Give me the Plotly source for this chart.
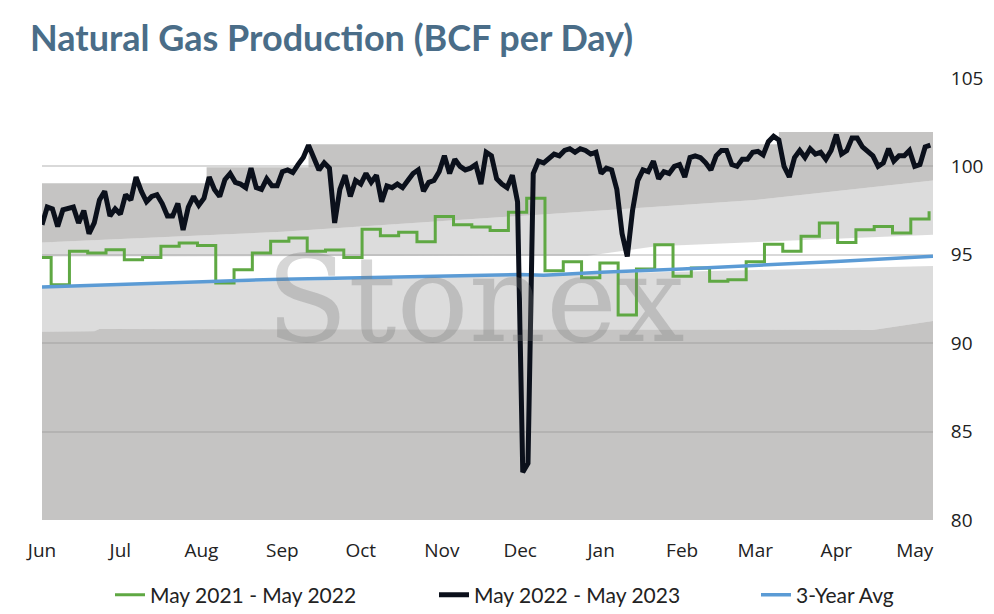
import pandas as pd
import plotly.graph_objects as go

# ---- data ----
months = ["Jun", "Jul", "Aug", "Sep", "Oct", "Nov", "Dec", "Jan", "Feb", "Mar", "Apr", "May"]
month_dates = ["2022-06-01", "2022-07-01", "2022-08-01", "2022-09-01", "2022-10-01", "2022-11-01",
               "2022-12-01", "2023-01-01", "2023-02-01", "2023-03-01", "2023-04-01", "2023-05-01"]

# May 2022 - May 2023, every second day from Jun 1
prod_2223 = [
    96.7, 97.7, 97.6, 96.6, 97.55, 97.6, 97.7, 96.8, 97.5, 96.2,
    96.8, 98.1, 98.6, 97.2, 97.6, 97.3, 98.4, 98.1, 99.4, 98.6,
    98.0, 98.3, 98.4, 97.9, 97.2, 97.2, 97.9, 96.4, 97.7, 98.3,
    97.8, 98.2, 99.4, 98.7, 98.3, 99.25, 99.6, 99.1, 99.0, 98.8,
    99.9, 98.8, 98.7, 99.3, 98.9, 98.9, 99.7, 99.8, 99.65, 100.1,
    100.5, 101.2, 100.4, 99.8, 100.2, 99.9, 96.8, 98.7, 99.5, 98.3,
    99.2, 99.0, 99.6, 99.1, 99.5, 98.0, 98.9, 98.8, 99.0, 98.8,
    99.2, 99.6, 99.8, 98.6, 99.1, 99.2, 99.7, 100.6, 99.6, 100.4,
    100.0, 99.8, 99.9, 100.1, 99.0, 100.8, 100.6, 99.3, 99.0, 98.8,
    99.5, 98.0, 82.7, 83.2, 99.6, 100.3, 100.2, 100.5, 100.7, 100.6,
    100.9, 101.0, 100.8, 101.0, 100.9, 100.7, 100.8, 99.6, 99.9, 99.8,
    98.7, 96.2, 94.9, 97.5, 99.2, 99.8, 99.7, 100.3, 99.3, 99.7,
    99.6, 100.0, 100.1, 99.4, 100.5, 100.6, 100.5, 100.2, 99.8, 100.6,
    100.9, 100.9, 100.1, 100.0, 100.4, 100.4, 100.8, 100.85, 100.65, 101.4,
    101.7, 101.5, 100.0, 99.4, 100.5, 100.9, 100.5, 101.0, 100.7, 100.8,
    100.4, 100.9, 101.8, 100.7, 100.9, 101.6, 101.6, 101.1, 100.8, 100.6,
    100.0, 100.2, 101.0, 100.3, 100.6, 100.6, 100.9, 100.0, 100.1, 101.1,
    101.2,
]

# May 2021 - May 2022, weekly steps
prod_2122_start = 94.85
prod_2122 = [
    93.3, 95.2, 95.1, 95.29, 94.72, 94.85, 95.48, 95.67, 95.53, 93.4,
    94.16, 95.1, 95.76, 95.95, 95.2, 95.27, 94.85, 96.45, 96.08, 96.27,
    95.74, 97.17, 96.7, 96.57, 96.38, 97.4, 98.2, 94.1, 94.6, 93.7,
    94.53, 91.6, 94.2, 95.57, 93.78, 94.25, 93.5, 93.59, 94.6, 95.6,
    95.2, 96.05, 96.8, 95.7, 96.42, 96.6, 96.23, 97.03, 97.46,
]

# 3-year average
avg_dates = ["2022-06-01", "2022-07-01", "2022-08-01", "2022-09-01", "2022-10-01", "2022-11-01",
             "2022-12-01", "2022-12-10", "2023-01-01", "2023-02-01", "2023-03-01", "2023-04-01",
             "2023-05-08"]
avg_vals = [93.18, 93.32, 93.45, 93.62, 93.7, 93.8, 93.88, 93.84, 94.02, 94.2, 94.38, 94.62, 94.92]

# range bands behind the lines
low_dates = ["2022-06-01", "2022-06-21", "2022-06-23", "2023-04-15", "2023-05-08"]
low_vals = [90.65, 90.67, 90.8, 90.75, 91.25]
white_lo_dates = ["2022-06-01", "2022-12-01", "2023-01-01", "2023-05-08"]
white_lo_vals = [93.2, 93.85, 93.95, 94.37]
white_hi_dates = ["2022-06-01", "2022-12-27", "2023-01-22", "2023-05-08"]
white_hi_vals = [94.9, 94.95, 95.48, 96.14]
up_lo_dates = ["2022-06-01", "2022-09-01", "2022-12-01", "2023-03-01", "2023-05-08"]
up_lo_vals = [95.7, 96.3, 97.2, 98.1, 99.2]
up_hi_dates = ["2022-06-01", "2022-08-03", "2022-09-11", "2023-03-10", "2023-05-08"]
up_hi_vals = [99.05, 99.95, 101.25, 101.95, 101.95]

x_start, x_end = "2022-06-01", "2023-05-08"

DARK = "rgba(150,148,146,0.55)"
LIGHT = "rgba(140,140,140,0.30)"

black_x = pd.date_range("2022-06-01", periods=len(prod_2223), freq="2D")
green_x = [pd.Timestamp("2022-06-01")] + list(
    pd.date_range("2022-06-04 12:00", periods=len(prod_2122), freq="7D"))
green_y = [prod_2122_start] + prod_2122

fig = go.Figure()


def band(x, y, fill, color, shape="linear"):
    fig.add_trace(go.Scatter(x=x, y=y, mode="lines", line=dict(width=0, shape=shape),
                             fill=fill, fillcolor=color, showlegend=False, hoverinfo="skip"))


band([x_start, x_end], [80, 80], "none", None)
band(low_dates, low_vals, "tonexty", DARK)
band(white_lo_dates, white_lo_vals, "tonexty", LIGHT)
band(white_hi_dates, white_hi_vals, "none", None)
band(up_lo_dates, up_lo_vals, "tonexty", LIGHT)
band(up_hi_dates, up_hi_vals, "tonexty", DARK, shape="hv")

fig.add_trace(go.Scatter(x=green_x, y=green_y, mode="lines", name="May 2021 - May 2022",
                         line=dict(color="#5fa843", width=3, shape="hv"), legend="legend"))
fig.add_trace(go.Scatter(x=pd.to_datetime(avg_dates), y=avg_vals, mode="lines", name="3-Year Avg",
                         line=dict(color="#5b9bd5", width=3.5), legend="legend3"))
fig.add_trace(go.Scatter(x=black_x, y=prod_2223, mode="lines", name="May 2022 - May 2023",
                         line=dict(color="#0b101b", width=5), legend="legend2"))

# watermark
fig.add_annotation(text="Stonex", xref="paper", yref="paper", x=0.487, y=0.5,
                   showarrow=False, font=dict(family="DejaVu Serif", size=120,
                                              color="rgba(120,120,120,0.3)"))

# the page body adds an 8px offset, so everything is placed 8px up/left
leg = dict(orientation="h", xref="container", yref="container", xanchor="left",
           y=1 - 587 / 614, yanchor="middle", bgcolor="rgba(0,0,0,0)",
           font=dict(family="Lato", size=21, color="#222222"))

fig.update_layout(
    width=994, height=614,
    margin=dict(l=34, r=69, t=70, b=102),
    paper_bgcolor="white", plot_bgcolor="white",
    font=dict(family="Open Sans", size=19, color="#222222"),
    title=dict(text="<b>Natural Gas Production (BCF per Day)</b>", x=22 / 994, xanchor="left",
               y=0.971, yanchor="top", font=dict(family="Lato", size=36, color="#4a6d88")),
    showlegend=True,
    legend=dict(leg, x=102 / 994),
    legend2=dict(leg, x=426 / 994),
    legend3=dict(leg, x=748 / 994),
    hovermode=False,
)
fig.update_xaxes(range=[x_start, x_end], tickvals=month_dates, ticktext=months,
                 showgrid=False, zeroline=False, showline=False, automargin=False,
                 ticks="outside", ticklen=13, tickcolor="rgba(0,0,0,0)")
fig.update_yaxes(range=[80, 105], dtick=5, side="right", showgrid=True, gridcolor="#d9d9d9",
                 gridwidth=2, zeroline=False, showline=False, automargin=False,
                 ticks="outside", ticklen=13, tickcolor="rgba(0,0,0,0)")

fig.write_html("out.html")
